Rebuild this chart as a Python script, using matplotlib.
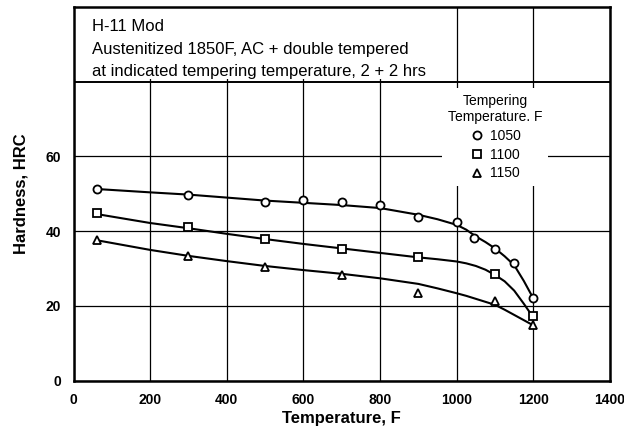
import matplotlib
matplotlib.use("Agg")
import matplotlib.pyplot as plt
from matplotlib.patches import Rectangle

# measured points
temps_1050 = [60, 300, 500, 600, 700, 800, 900, 1000, 1045, 1100, 1150, 1200]
hrc_1050 = [51.3, 49.7, 47.9, 48.4, 47.8, 46.9, 43.9, 42.6, 38.1, 35.3, 31.4, 22.1]
temps_1100 = [60, 300, 500, 700, 900, 1100, 1200]
hrc_1100 = [44.8, 41.0, 37.9, 35.3, 33.0, 28.6, 17.4]
temps_1150 = [60, 300, 500, 700, 900, 1100, 1200]
hrc_1150 = [37.7, 33.4, 30.5, 28.2, 23.6, 21.2, 14.9]

# fitted curves
curve_temps = [60, 200, 300, 400, 500, 600, 700, 800, 900, 950, 1000,
               1025, 1050, 1075, 1100, 1125, 1150, 1175, 1200]
curve_1050 = [51.3, 50.4, 49.8, 49.0, 48.2, 47.6, 47.0, 46.2, 44.4, 43.2, 41.7,
              40.4, 38.6, 37.1, 35.4, 33.3, 30.9, 26.7, 22.0]
curve_1100 = [44.6, 42.2, 40.8, 39.3, 37.9, 36.6, 35.4, 34.2, 33.0, 32.5, 31.9,
              31.4, 30.7, 29.7, 28.3, 26.6, 24.1, 20.6, 16.9]
curve_1150 = [37.6, 35.0, 33.4, 32.0, 30.7, 29.6, 28.6, 27.4, 25.9, 24.7, 23.4,
              22.7, 21.9, 21.1, 20.3, 19.0, 17.6, 16.2, 14.8]

xticks = [0, 200, 400, 600, 800, 1000, 1200, 1400]
yticks = [0, 20, 40, 60]

plain = ['Liberation Sans', 'DejaVu Sans']

fig = plt.figure(figsize=(6.24, 4.33), dpi=100)
ax = fig.add_axes([0.1178, 0.1208, 0.8598, 0.863])
ax.set_xlim(0, 1400)
ax.set_ylim(0, 100)

ax.set_axisbelow(True)
ax.set_xticks(xticks)
ax.set_yticks(yticks)
ax.grid(True, color='black', lw=0.9)
ax.tick_params(length=0, labelsize=10)
ax.tick_params(axis='x', pad=9)
ax.tick_params(axis='y', pad=9)
for lab in ax.get_xticklabels() + ax.get_yticklabels():
    lab.set_family(plain)
    lab.set_weight('bold')
for s in ax.spines.values():
    s.set_linewidth(1.8)

# white box behind the heading, and the line that closes it
ax.add_patch(Rectangle((0, 80.8), 965, 19.2, fc='white', ec='none', zorder=1))
ax.axhline(80, color='black', lw=1.4, zorder=1.2)

ax.text(0.034, 0.967,
        "H-11 Mod\nAustenitized 1850F, AC + double tempered\n"
        "at indicated tempering temperature, 2 + 2 hrs",
        transform=ax.transAxes, ha='left', va='top', fontsize=12,
        family=plain, linespacing=1.62, zorder=3)

for ct in [curve_1050, curve_1100, curve_1150]:
    ax.plot(curve_temps, ct, color='black', lw=1.5, zorder=3)

h1, = ax.plot(temps_1050, hrc_1050, 'o', ms=5.8, mfc='white', mec='black', mew=1.3, zorder=4)
h2, = ax.plot(temps_1100, hrc_1100, 's', ms=5.2, mfc='white', mec='black', mew=1.3, zorder=4)
h3, = ax.plot(temps_1150, hrc_1150, '^', ms=6.3, mfc='white', mec='black', mew=1.3, zorder=4)

leg = ax.legend([h1, h2, h3], ['1050', '1100', '1150'],
                title='Tempering\nTemperature. F', loc='upper left',
                bbox_to_anchor=(0.687, 0.783), borderaxespad=0,
                title_fontsize=10, frameon=True, fancybox=False,
                facecolor='white', edgecolor='none', framealpha=1,
                handletextpad=0.3, labelspacing=0.35, borderpad=0.4,
                handlelength=1.2, prop={'family': plain, 'size': 10})
leg.get_title().set_family(plain)
leg.get_title().set_multialignment('center')

ax.set_xlabel('Temperature, F', fontsize=12, weight='bold', family=plain, labelpad=3)
ax.set_ylabel('Hardness, HRC', fontsize=12, weight='bold', family=plain, labelpad=12)

fig.savefig('out.png', dpi=100)
